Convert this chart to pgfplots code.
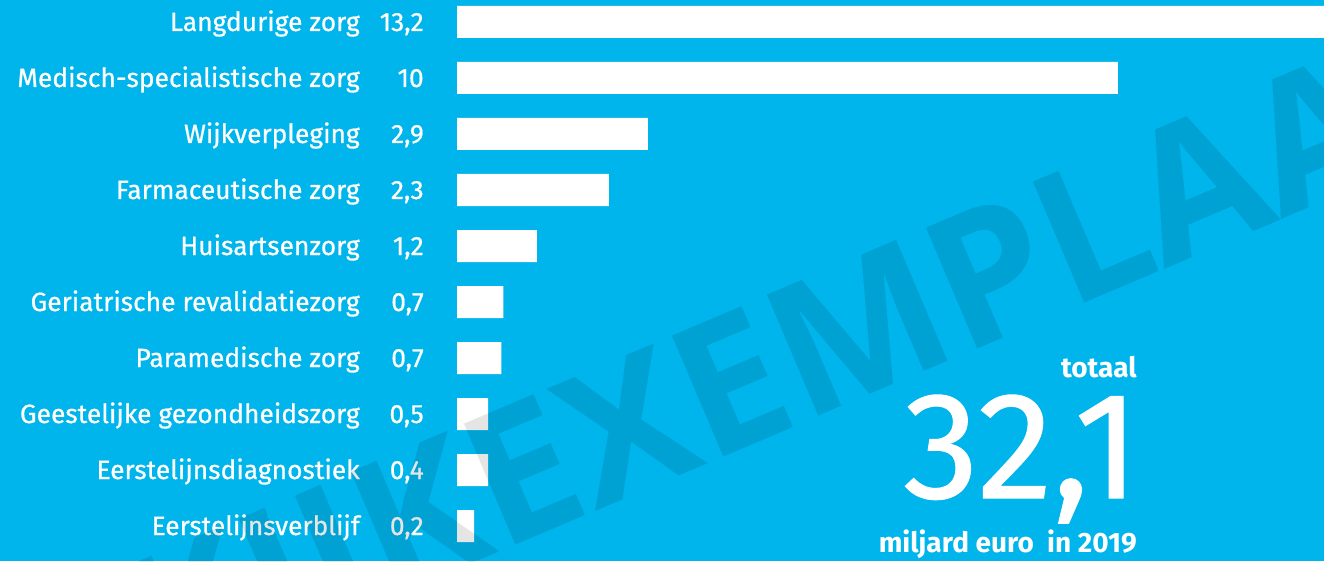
\documentclass[border=0pt]{standalone}
\usepackage{pgfplots}
\pgfplotsset{compat=1.18}
\usepackage{fontspec}
\setmainfont{Fira Sans}
\newfontfamily\medfont{Fira Sans}[FakeBold=0.7]
\newfontfamily\wmfont{Open Sans}
\definecolor{bg}{RGB}{0,180,236}

\newcommand{\val}[1]{\makebox[48pt][r]{#1}}

\begin{document}
\begin{tikzpicture}
\path[use as bounding box, fill=bg] (0,0) rectangle (993pt,420.75pt);

\begin{axis}[
    at={(342.75pt,5.25pt)}, anchor=south west,
    scale only axis,
    width=650.25pt, height=420pt,
    xmin=0, xmax=13.12,
    ymin=-0.5, ymax=9.5,
    xbar, bar width=24pt,
    axis line style={draw=none},
    tick style={draw=none},
    major tick length=0pt,
    xtick=\empty,
    ytick={0,...,9},
    yticklabels={
      {Eerstelijnsverblijf\val{0,2}},
      {Eerstelijnsdiagnostiek\val{0,4}},
      {Geestelijke gezondheidszorg\val{0,5}},
      {Paramedische zorg\val{0,7}},
      {Geriatrische revalidatiezorg\val{0,7}},
      {Huisartsenzorg\val{1,2}},
      {Farmaceutische zorg\val{2,3}},
      {Wijkverpleging\val{2,9}},
      {Medisch-specialistische zorg\val{10}},
      {Langdurige zorg\val{13,2}}},
    yticklabel style={anchor=base east, inner sep=0pt, xshift=-24.75pt, yshift=-6.75pt,
      text=white, font=\medfont\fontsize{19.8}{20}\selectfont},
    clip=true,
]
\addplot[fill=white, draw=none] coordinates {
  (0.26,0) (0.47,1) (0.47,2) (0.67,3) (0.70,4)
  (1.21,5) (2.30,6) (2.89,7) (10,8) (13.2,9)};
\end{axis}

\node[anchor=base east, inner sep=0pt, text=white, font=\bfseries\fontsize{21}{22}\selectfont]
  at (852.75pt,138pt) {totaal};
\node[anchor=base east, inner sep=0pt, text=white, font=\medfont\fontsize{114}{114}\selectfont]
  at (855pt,47.25pt) {32,1};
\node[anchor=base east, inner sep=0pt, text=white, font=\bfseries\fontsize{21}{22}\selectfont]
  at (852.75pt,6.75pt) {miljard euro\ \ in 2019};

\begin{scope}[text opacity=0.1]
\node[rotate=23, anchor=base east, inner sep=0pt, text=black,
  font=\wmfont\bfseries\fontsize{138}{138}\selectfont] at (375.2pt,7.2pt) {INKIJK};
\node[rotate=23, anchor=base west, inner sep=0pt, text=black,
  font=\wmfont\bfseries\fontsize{138}{138}\selectfont] at (375.2pt,7.2pt) {EXEMPLAAR};
\end{scope}
\end{tikzpicture}
\end{document}
